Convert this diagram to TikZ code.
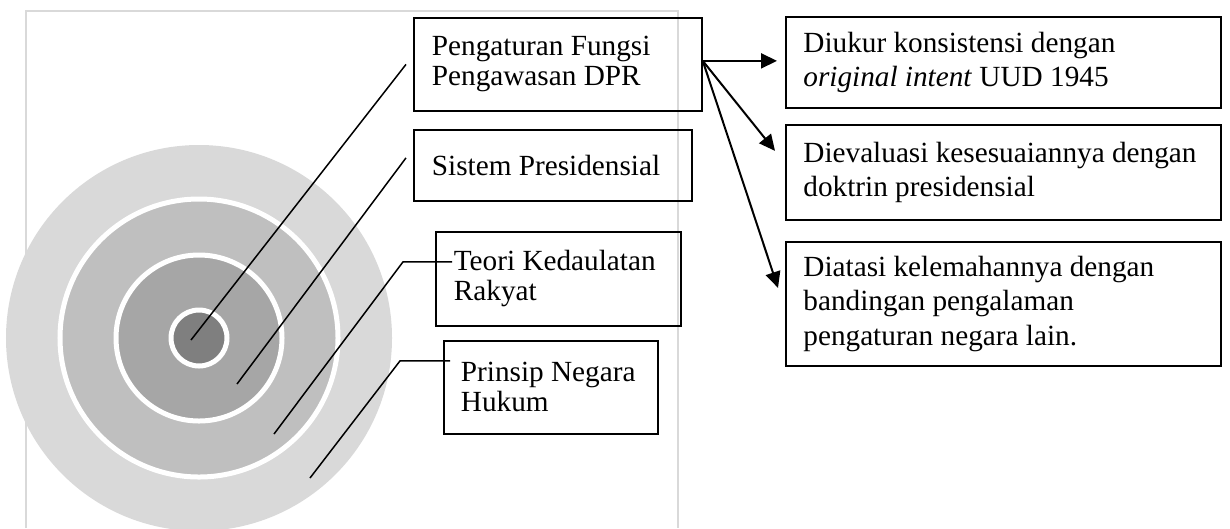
\documentclass[tikz,border=0pt]{standalone}
\usepackage{fontspec}
\setmainfont{Liberation Serif}
\usepackage{xcolor}
\usepackage{tikz}
\usetikzlibrary{arrows.meta}
\definecolor{abuA}{HTML}{D9D9D9}
\definecolor{abuB}{HTML}{BFBFBF}
\definecolor{abuC}{HTML}{A6A6A6}
\definecolor{abuD}{HTML}{7F7F7F}

\begin{document}
\begin{tikzpicture}[x=0.4pt,y=-0.4pt,
  >={Triangle[length=6.4pt,width=6pt]},
  kotak/.style={draw, line width=0.7pt, anchor=north west, align=flush left, inner ysep=0pt, font=\fontsize{11.7}{12}\selectfont},
  kotakkanan/.style={kotak, inner xsep=7pt, text width=160pt, font=\fontsize{11.7}{13.8}\selectfont},
  garis/.style={line width=0.6pt},
  cincin/.style={draw=white, line width=2pt}]
\useasboundingbox (0,0) rectangle (1230,528);
\clip (0,0) rectangle (1230,528);
\draw[abuA, line width=0.6pt] (26,528) -- (26,11) -- (678,11) -- (678,528);
\fill[abuA] (199,338) circle (77.2pt);
\filldraw[fill=abuB, cincin] (199,338) circle (55.6pt);
\filldraw[fill=abuC, cincin] (199,338) circle (33.2pt);
\filldraw[fill=abuD, cincin] (199,338) circle (11.2pt);
\node[kotak, inner xsep=7.2pt, text width=100.8pt, minimum height=37.2pt] (fungsi) at (413,17) {Pengaturan Fungsi\\Pengawasan DPR};
\node[kotak, inner xsep=7.2pt, text width=96.8pt, minimum height=28.4pt] (sistem) at (413,129) {Sistem Presidensial};
\node[kotak, inner xsep=7.2pt, text width=83.6pt, minimum height=37.6pt] (teori) at (435,231) {Teori Kedaulatan\\Rakyat};
\node[kotak, inner xsep=6.8pt, text width=72pt, minimum height=37.2pt] (prinsip) at (443,340) {Prinsip Negara\\Hukum};
\node[kotakkanan, minimum height=36.4pt] (ukur) at (785,16) {Diukur konsistensi dengan\\\textit{original intent} UUD 1945};
\node[kotakkanan, minimum height=38pt] (evaluasi) at (785,124) {Dievaluasi kesesuaiannya dengan\\doktrin presidensial};
\node[kotakkanan, minimum height=49.6pt] (atasi) at (785,241) {Diatasi kelemahannya dengan\\bandingan pengalaman\\pengaturan negara lain.};
\coordinate (p1) at (191,340);
\coordinate (p2) at (237,384);
\coordinate (p3) at (274,434);
\coordinate (p4) at (310,478);
\draw[garis] ([xshift=-2.8pt]fungsi.west) -- (p1);
\draw[garis] ([xshift=-2.8pt,yshift=3pt]sistem.west) -- (p2);
\draw[garis] ([xshift=6.8pt,yshift=6.8pt]teori.west) -- ++(-49,0) -- (p3);
\draw[garis] ([xshift=2.8pt,yshift=10.6pt]prinsip.west) -- ++(-50,0) -- (p4);
\coordinate (pangkal) at ([yshift=1.4pt]fungsi.east);
\draw[->, line width=0.8pt] (pangkal) -- ([xshift=-3.2pt]ukur.west |- pangkal);
\draw[->, line width=0.8pt] (pangkal) -- ([xshift=-4pt,yshift=8.6pt]evaluasi.west);
\draw[->, line width=0.8pt] (pangkal) -- ([xshift=-2.8pt,yshift=6.4pt]atasi.west);
\end{tikzpicture}
\end{document}
